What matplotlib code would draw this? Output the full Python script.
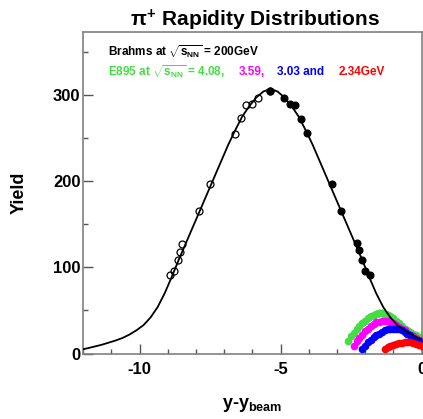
import numpy as np
import matplotlib
matplotlib.use('Agg')
import matplotlib.pyplot as plt
from matplotlib.ticker import MultipleLocator

plt.rcParams['font.family'] = ['Liberation Sans', 'DejaVu Sans']
plt.rcParams['mathtext.fontset'] = 'custom'
plt.rcParams['mathtext.rm'] = 'Liberation Sans:bold'
plt.rcParams['mathtext.bf'] = 'Liberation Sans:bold'
plt.rcParams['mathtext.it'] = 'Liberation Sans:bold'
plt.rcParams['axes.unicode_minus'] = False

########################################################################
# data

# fit curve
curve_x = [-12.00, -11.86, -11.61, -11.36, -11.11, -10.86, -10.61, -10.36,
           -10.11, -9.86, -9.61, -9.36, -9.11, -8.86, -8.61, -8.36, -8.11,
           -7.86, -7.61, -7.36, -7.11, -6.86, -6.61, -6.36, -6.11, -5.86,
           -5.61, -5.36, -5.11, -4.86, -4.61, -4.36, -4.11, -3.86, -3.61,
           -3.36, -3.11, -2.86, -2.61, -2.36, -2.11, -1.86, -1.61, -1.36,
           -1.11, -0.86, -0.61, -0.36, 0.00]
curve_y = [5, 6, 8, 10, 12.5, 15, 18, 22,
           27, 33, 42, 54, 70, 89, 109, 128, 147,
           166, 185, 204, 223, 242, 259, 275, 287, 297,
           304, 307, 304, 297, 287, 275, 259, 242, 223,
           204, 185, 166, 147, 128, 109, 89, 70, 54,
           42, 33, 27, 22, 16.5]

# BRAHMS measured (filled) and reflected (open)
brahms_x = [-5.36, -4.89, -4.68, -4.48, -4.29, -4.08, -3.17, -2.86, -2.30,
            -2.21, -2.10, -2.00, -1.82]
brahms_y = [305, 297, 290, 288, 272, 256, 197, 165, 128, 120, 109, 96, 91]
refl_x = [-5.39, -5.81, -6.02, -6.22, -6.41, -6.62, -7.51, -7.90, -8.50,
          -8.56, -8.65, -8.79, -8.94]
refl_y = [305, 297, 290, 288, 273, 255, 197, 165, 127, 118, 109, 96, 91]

# E895 at 4.08, 3.59, 3.03, 2.34 GeV
e408_x = [-2.6, -2.5, -2.4, -2.3, -2.2, -2.1, -2.0, -1.9, -1.8, -1.7, -1.6,
          -1.5, -1.4, -1.3, -1.2, -1.1, -1.0, -0.9, -0.8, -0.7, -0.6, -0.5,
          -0.4, -0.3, -0.2, -0.1, 0.0]
e408_y = [15, 20, 24, 28, 32, 35, 38, 41, 43, 45, 46, 47, 47, 46, 45, 43, 41,
          38, 35, 32, 29, 27, 25, 23, 21, 19, 17]
e359_x = [-2.4, -2.3, -2.2, -2.1, -2.0, -1.9, -1.8, -1.7, -1.6, -1.5, -1.4,
          -1.3, -1.2, -1.1, -1.0, -0.9, -0.8, -0.7, -0.6, -0.5, -0.4, -0.3,
          -0.2, -0.1, 0.0]
e359_y = [9, 14, 18, 22, 26, 29, 32, 34, 36, 37, 38, 38, 38, 37, 35, 33, 31,
          29, 27, 24, 22, 20, 18, 16, 14]
e303_x = [-2.1, -2.0, -1.9, -1.8, -1.7, -1.6, -1.5, -1.4, -1.3, -1.2, -1.1,
          -1.0, -0.9, -0.8, -0.7, -0.6, -0.5, -0.4, -0.3, -0.2, -0.1, 0.0]
e303_y = [5, 9, 13, 16, 19, 21, 23, 25, 27, 28, 29, 29, 29, 28, 27, 25, 23,
          21, 18, 16, 14, 12]
e234_x = [-1.3, -1.2, -1.1, -1.0, -0.9, -0.8, -0.7, -0.6, -0.5, -0.4, -0.3,
          -0.2, -0.1, 0.0]
e234_y = [5, 7, 9, 10, 11, 12, 12, 13, 13, 13, 12, 11, 10, 9]

green = '#44dd44'
magenta = '#ff00ff'
blue = '#0000ff'
red = '#ff0000'

########################################################################
# figure

fig = plt.figure(figsize=(4.23, 4.19), dpi=100)
ax = fig.add_axes([83.3 / 423, 1 - 353.5 / 419, 338.2 / 423, 321.5 / 419])

# E895 bands
ax.errorbar(e408_x, e408_y, yerr=4.5, fmt='o', color=green, ms=5.5, mew=0,
            ecolor='#444444', elinewidth=0.6, capsize=0, zorder=2)
ax.errorbar(e359_x, e359_y, yerr=2.5, fmt='o', color=magenta, ms=5.5, mew=0,
            elinewidth=1.0, capsize=0, zorder=3)
ax.errorbar(e303_x, e303_y, yerr=2.5, fmt='o', color=blue, ms=5.5, mew=0,
            elinewidth=1.0, capsize=0, zorder=4)
ax.errorbar(e234_x, e234_y, yerr=2, fmt='o', color=red, ms=5.5, mew=0,
            elinewidth=1.0, capsize=0, zorder=5)

# fit
ax.plot(curve_x, curve_y, color='black', lw=1.3, zorder=6)

# BRAHMS
ax.plot(brahms_x, brahms_y, 'o', color='black', ms=4.8, zorder=7)
ax.plot(refl_x, refl_y, 'o', mfc='none', mec='black', mew=0.9, ms=5,
        zorder=7)

ax.set_xlim(-12, 0)
ax.set_ylim(0, 373)
ax.xaxis.set_major_locator(MultipleLocator(5))
ax.xaxis.set_minor_locator(MultipleLocator(1))
ax.yaxis.set_major_locator(MultipleLocator(100))
ax.yaxis.set_minor_locator(MultipleLocator(50))
ax.tick_params(which='both', direction='in', color='#555555', width=1)
ax.tick_params(which='major', length=7, labelsize=12)
ax.tick_params(which='minor', length=3.5)
ax.tick_params(axis='y', pad=2)
ax.tick_params(axis='x', pad=6)
for lab in ax.get_xticklabels() + ax.get_yticklabels():
    lab.set_fontweight('bold')
for sp in ax.spines.values():
    sp.set_color('#808080')
    sp.set_linewidth(1.2)

ax.set_xlabel(r'y-y$_{\mathbf{beam}}$', fontsize=13, fontweight='bold',
              labelpad=14)
fig.text(19 / 423, 1 - 193 / 419, 'Yield', rotation=90, fontsize=13,
         fontweight='bold', ha='center', va='center')

fig.text(255 / 423, 1 - 20 / 419, r'$\pi^{+}$ Rapidity Distributions',
         fontsize=15, fontweight='bold', ha='center', va='center')

fig.text(108 / 423, 1 - 52 / 419, r'Brahms at $\sqrt{s_{NN}}$ = 200GeV',
         fontsize=8.5, fontweight='bold', va='center')
fig.text(108 / 423, 1 - 72 / 419, r'E895 at $\sqrt{s_{NN}}$ = 4.08,',
         fontsize=8.5, fontweight='bold', va='center', color=green)
fig.text(239 / 423, 1 - 72 / 419, '3.59,', fontsize=8.5, fontweight='bold',
         va='center', color=magenta)
fig.text(277 / 423, 1 - 72 / 419, '3.03 and', fontsize=8.5,
         fontweight='bold', va='center', color=blue)
fig.text(339 / 423, 1 - 72 / 419, '2.34GeV', fontsize=8.5,
         fontweight='bold', va='center', color=red)

fig.savefig('out.png', dpi=100)
